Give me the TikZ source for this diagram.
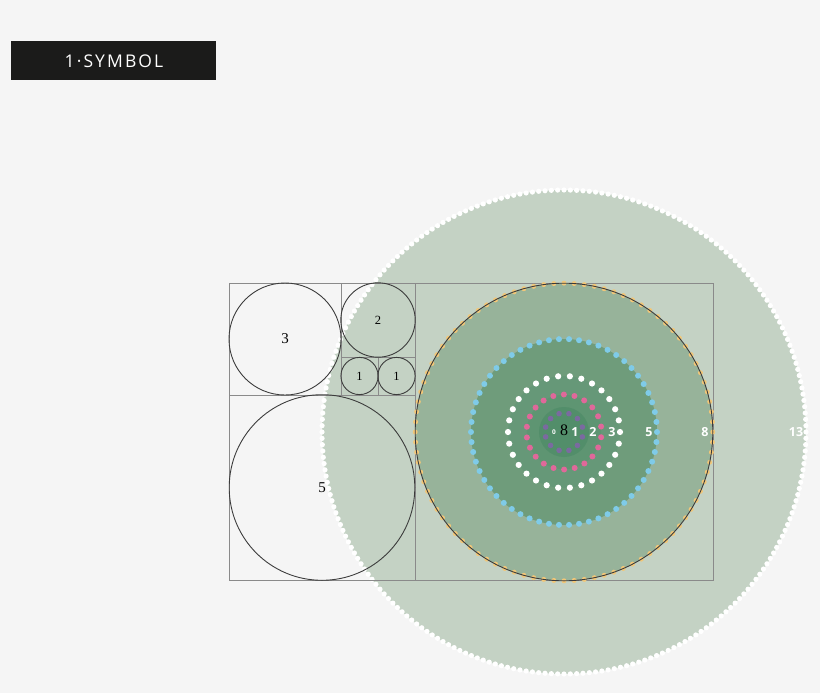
\documentclass[tikz,border=0pt]{standalone}
\usepackage{fontspec}
\setmainfont{Liberation Serif}
\newfontfamily\boxfont[LetterSpace=12]{Open Sans}
\newfontfamily\numfont{Open Sans}
\definecolor{bg}{HTML}{F5F5F5}
\definecolor{sage}{HTML}{C4D2C4}
\definecolor{ceight}{HTML}{97B39A}
\definecolor{cfive}{HTML}{6F9C7B}
\definecolor{cthree}{HTML}{669878}
\definecolor{ctwo}{HTML}{5E9572}
\definecolor{cone}{HTML}{528E6A}
\definecolor{gridc}{HTML}{8A8A8A}
\definecolor{circc}{HTML}{3C3C3C}
\definecolor{dotblue}{HTML}{7FCBE8}
\definecolor{dotpink}{HTML}{E0689A}
\definecolor{dotpurple}{HTML}{7A6AA0}
\definecolor{dotyellow}{HTML}{F2C778}
\definecolor{boxc}{HTML}{1B1B1A}
\tikzset{
  gridline/.style={draw=gridc, line width=0.8pt},
  fibcirc/.style={draw=circc, line width=0.9pt},
  serifnum/.style={font=\fontsize{15}{15}\selectfont, text=black, inner sep=0pt},
  whitenum/.style={font=\numfont\bfseries\fontsize{12.5}{13}\selectfont, text=white, inner sep=0pt},
}
\begin{document}
\begin{tikzpicture}[x=1pt,y=-1pt]
\useasboundingbox (0,0) rectangle (820,693);
\fill[bg] (0,0) rectangle (820,693);
% title box
\node[fill=boxc, minimum width=205pt, minimum height=39pt, inner sep=0pt, anchor=north west] (title) at (11,41) {};
\node[text=white, font=\boxfont\fontsize{17.5}{17.5}\selectfont] (titletext) at (114,61) {1·SYMBOL};
% center
\coordinate (c) at (564,432);
% 13 disc
\fill[sage] (c) circle (242);
\foreach \i in {1,...,240} \fill[white] (c) ++({1.5*\i}:242) circle (2.6);
% grid
\draw[gridline] (229,283) rectangle (713,580);
\draw[gridline] (341,283) -- (341,395);
\draw[gridline] (415,283) -- (415,580);
\draw[gridline] (378,357) -- (378,395);
\draw[gridline] (229,395) -- (415,395);
\draw[gridline] (341,357) -- (415,357);
% fib circles
\draw[fibcirc] (285,339) circle (56) node[serifnum] (n3) {3};
\draw[fibcirc] (378,320) circle (37.2) node[serifnum, font=\fontsize{12.5}{12.5}\selectfont] (n2) {2};
\draw[fibcirc] (359.5,376) circle (18.6) node[serifnum, font=\fontsize{12.5}{12.5}\selectfont] (n1a) {1};
\draw[fibcirc] (396.5,376) circle (18.6) node[serifnum, font=\fontsize{12.5}{12.5}\selectfont] (n1b) {1};
\draw[fibcirc] (322,487.5) circle (92.8) node[serifnum] (n5) {5};
% 8 disc and inner discs
\fill[ceight] (c) circle (148.8);
\fill[cfive] (c) circle (93);
\fill[cthree] (c) circle (56);
\fill[ctwo] (c) circle (37.2);
\fill[cone] (c) circle (25);
\foreach \i in {1,...,92} \fill[dotyellow] (c) ++({3.91304*\i}:148.8) circle (2.5);
\draw[fibcirc] (c) circle (148.8);
% dotted rings
\foreach \i in {1,...,58} \fill[dotblue] (c) ++({6.2069*\i}:93) circle (3);
\foreach \i in {1,...,30} \fill[white] (c) ++({12*\i}:56) circle (3.1);
\foreach \i in {1,...,22} \fill[dotpink] (c) ++({16.3636*\i+8}:37.5) circle (3);
\foreach \i in {1,...,12} \fill[dotpurple] (c) ++({30*\i+15}:19) circle (2.8);
% labels
\node[serifnum, font=\fontsize{16}{16}\selectfont] (n8c) at (564,430) {8};
\node[whitenum, font=\numfont\bfseries\fontsize{6.5}{6.5}\selectfont] (n0) at (554,432.5) {0};
\node[whitenum] (w1) at (575,432) {1};
\node[whitenum] (w2) at (593,432) {2};
\node[whitenum] (w3) at (612,432) {3};
\node[whitenum] (w5) at (649,432) {5};
\node[whitenum] (w8) at (705,432) {8};
\node[whitenum] (w13) at (796,432) {13};
\end{tikzpicture}
\end{document}
